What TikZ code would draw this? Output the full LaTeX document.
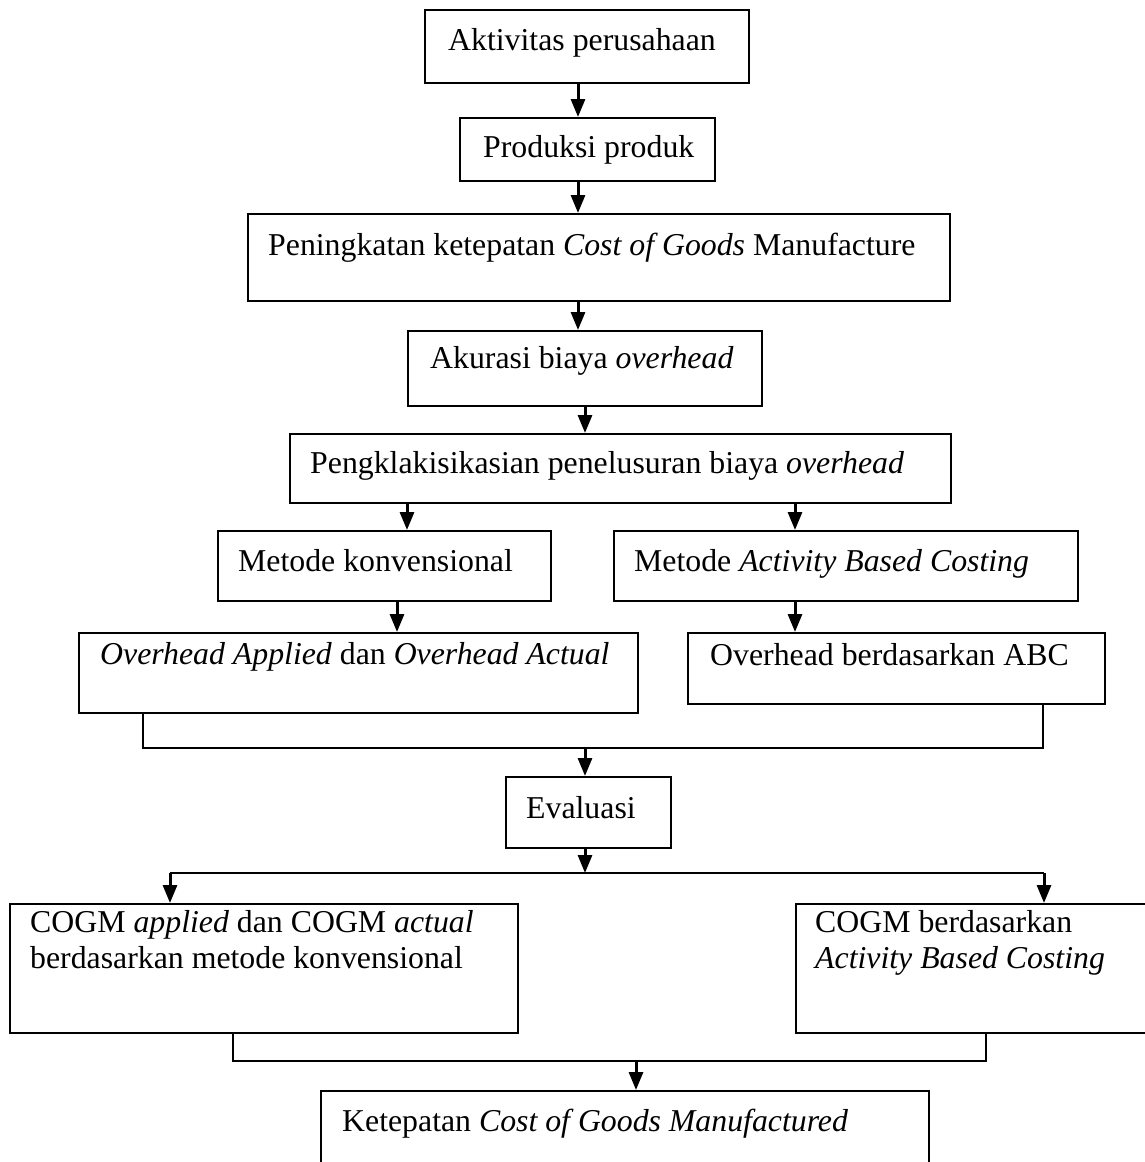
\documentclass[tikz,border=0pt]{standalone}
\usepackage{fontspec}
\setmainfont{Liberation Serif}
\usetikzlibrary{arrows.meta}
\begin{document}
\begin{tikzpicture}[x=1pt, y=-1pt,
  kotak/.style={draw, line width=2pt, anchor=north west, inner sep=0pt},
  teks/.style={anchor=base west, inner sep=0pt, font=\fontsize{31.8}{36}\selectfont},
  panah/.style={line width=3pt, -{Triangle[width=14pt,length=18pt]}},
  garis/.style={line width=2pt}]
\useasboundingbox (0,0) rectangle (1145,1162);
\clip (0,0) rectangle (1145,1162);
% kotak-kotak
\node[kotak, minimum width=324pt, minimum height=73pt] (aktivitas) at (424,9) {};
\node[teks] (taktivitas) at (448,50) {Aktivitas perusahaan};
\node[kotak, minimum width=255pt, minimum height=63pt] (produksi) at (459,117) {};
\node[teks] (tproduksi) at (483,157) {Produksi produk};
\node[kotak, minimum width=702pt, minimum height=87pt] (peningkatan) at (247,213) {};
\node[teks] (tpeningkatan) at (268,255) {Peningkatan ketepatan \textit{Cost of Goods} Manufacture};
\node[kotak, minimum width=354pt, minimum height=75pt] (akurasi) at (407,330) {};
\node[teks] (takurasi) at (430,368) {Akurasi biaya \textit{overhead}};
\node[kotak, minimum width=661pt, minimum height=69pt] (klasifikasi) at (289,433) {};
\node[teks] (tklasifikasi) at (310,473) {Pengklakisikasian penelusuran biaya \textit{overhead}};
\node[kotak, minimum width=333pt, minimum height=70pt] (konvensional) at (217,530) {};
\node[teks] (tkonvensional) at (238,571) {Metode konvensional};
\node[kotak, minimum width=464pt, minimum height=70pt] (abc) at (613,530) {};
\node[teks] (tabc) at (634,571) {Metode \textit{Activity Based Costing}};
\node[kotak, minimum width=559pt, minimum height=80pt] (applied) at (78,632) {};
\node[teks] (tapplied) at (100,664) {\textit{Overhead Applied} dan \textit{Overhead Actual}};
\node[kotak, minimum width=417pt, minimum height=71pt] (ohabc) at (687,632) {};
\node[teks] (tohabc) at (710,665) {Overhead berdasarkan ABC};
\node[kotak, minimum width=165pt, minimum height=71pt] (evaluasi) at (505,776) {};
\node[teks] (tevaluasi) at (526,818) {Evaluasi};
\node[kotak, minimum width=508pt, minimum height=129pt] (cogmkonv) at (9,903) {};
\node[teks] (tcogmkonv1) at (30,932) {COGM \textit{applied} dan COGM \textit{actual}};
\node[teks] (tcogmkonv2) at (30,968) {berdasarkan metode konvensional};
\node[kotak, minimum width=350pt, minimum height=129pt] (cogmabc) at (795,903) {};
\node[teks] (tcogmabc1) at (815,932) {COGM berdasarkan};
\node[teks] (tcogmabc2) at (815,968) {\textit{Activity Based Costing}};
\node[kotak, minimum width=608pt, minimum height=120pt] (ketepatan) at (320,1090) {};
\node[teks] (tketepatan) at (342,1131) {Ketepatan \textit{Cost of Goods Manufactured}};
% panah
\coordinate (gabung1) at (585,748);
\coordinate (cabang) at (585,873);
\coordinate (gabung2) at (636,1061);
\draw[panah] (aktivitas.south -| 578,0) -- (produksi.north -| 578,0);
\draw[panah] (produksi.south -| 578,0) -- (peningkatan.north -| 578,0);
\draw[panah] (peningkatan.south -| 578,0) -- (akurasi.north -| 578,0);
\draw[panah] (akurasi.south -| 585,0) -- (klasifikasi.north -| 585,0);
\draw[panah] (klasifikasi.south -| 407,0) -- (konvensional.north -| 407,0);
\draw[panah] (klasifikasi.south -| 795,0) -- (abc.north -| 795,0);
\draw[panah] (konvensional.south -| 397,0) -- (applied.north -| 397,0);
\draw[panah] (abc.south -| 795,0) -- (ohabc.north -| 795,0);
\draw[garis] (applied.south -| 143,0) -- (143,748) -- (1043,748) -- (ohabc.south -| 1043,0);
\draw[panah] (gabung1) -- (evaluasi.north -| gabung1);
\draw[panah] (evaluasi.south -| cabang) -- (cabang);
\draw[garis] (170,873) -- (1044,873);
\draw[panah] (170,873) -- (cogmkonv.north -| 170,0);
\draw[panah] (1044,873) -- (cogmabc.north -| 1044,0);
\draw[garis] (cogmkonv.south -| 233,0) -- (233,1061) -- (986,1061) -- (cogmabc.south -| 986,0);
\draw[panah] (gabung2) -- (ketepatan.north -| gabung2);
\end{tikzpicture}
\end{document}
